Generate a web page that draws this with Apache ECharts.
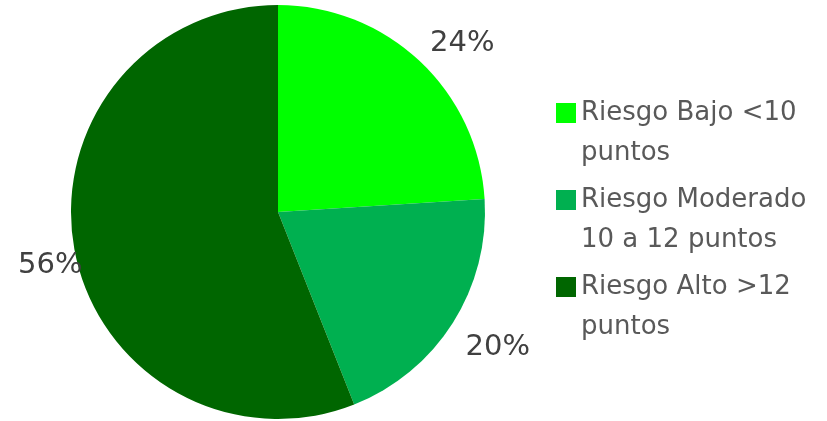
<!DOCTYPE html>
<html>
<head>
<meta charset="utf-8">
<script src="https://cdn.jsdelivr.net/npm/echarts@6/dist/echarts.min.js"></script>
<style>
  html, body { margin: 0; padding: 0; background: #fff; }
  #chart { width: 827px; height: 421px; }
</style>
</head>
<body>
<div id="chart"></div>
<script>
// Risk categories and their share of the total (percent)
const categories = [
  'Riesgo Bajo <10\npuntos',
  'Riesgo Moderado\n10 a 12 puntos',
  'Riesgo Alto >12\npuntos'
];
const values = [24, 20, 56];
const colors = ['#00FF00', '#00B050', '#006600'];

const W = 827, H = 421;
const CX = 278, CY = 212, R = 207;
const LINE_H = 40;
const total = values.reduce((a, b) => a + b, 0);

// Mid-angle of each slice, clockwise from 12 o'clock
const midAngles = [];
let acc = 0;
values.forEach(v => {
  midAngles.push((acc + v / 2) / total * Math.PI * 2);
  acc += v;
});

// Legend swatch: a 20px square level with the first text line; the bare
// move-to points stretch the icon box to the full two-line height.
const swatch = 'path://M0 0M0 ' + (2 * LINE_H) +
  'M0 ' + (LINE_H / 2 - 10) + 'h20v20h-20Z';

const chart = echarts.init(document.getElementById('chart'), null, { renderer: 'canvas' });

chart.setOption({
  animation: false,
  color: colors,
  legend: {
    orient: 'vertical',
    left: 551,
    top: 88,
    padding: 5,
    itemWidth: 20,
    itemHeight: 2 * LINE_H,
    itemGap: 7,
    icon: swatch,
    selectedMode: false,
    textStyle: {
      fontFamily: 'DejaVu Sans',
      fontSize: 26,
      color: '#595959',
      lineHeight: LINE_H
    },
    data: categories
  },
  series: [{
    type: 'pie',
    center: [CX, CY],
    radius: R,
    startAngle: 90,
    clockwise: true,
    avoidLabelOverlap: false,
    data: categories.map((name, i) => ({ name, value: values[i] })),
    label: {
      show: true,
      position: 'outside',
      formatter: '{d}%',
      fontFamily: 'DejaVu Sans',
      fontSize: 29,
      color: '#404040'
    },
    labelLine: { show: false },
    labelLayout: function (params) {
      const a = midAngles[params.dataIndex];
      const dx = Math.sin(a), dy = -Math.cos(a);
      const w = params.labelRect.width, h = params.labelRect.height;
      // label box pushed just outside the rim along the slice's mid-angle
      const d = R * 1.073;
      let x = CX + d * dx + Math.sign(dx) * w / 2;
      let y = CY + d * dy + Math.sign(dy) * Math.sqrt(Math.abs(dy)) * h / 2 + 6;
      x = Math.max(18 + w / 2, Math.min(W - w / 2, x));
      y = Math.max(h / 2, Math.min(H - h / 2, y));
      return { x: x, y: y, align: 'center', verticalAlign: 'middle', hideOverlap: false };
    },
    itemStyle: { borderWidth: 0 },
    emphasis: { disabled: true }
  }]
});
</script>
</body>
</html>
